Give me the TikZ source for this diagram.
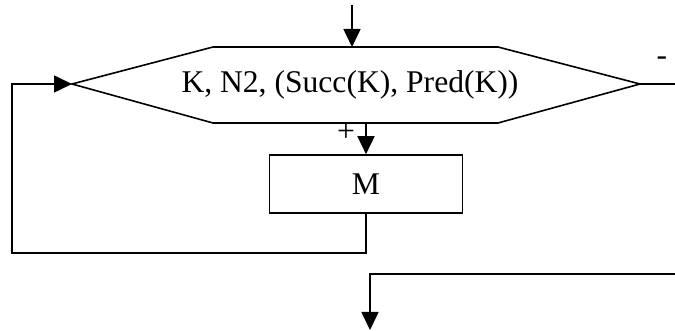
\documentclass[tikz,border=0pt]{standalone}
\usepackage{fontspec}
\setmainfont{Liberation Serif}
\usetikzlibrary{arrows.meta}
\usetikzlibrary{calc}

\tikzset{
  line/.style={line width=0.8pt},
  arr/.style={line, -{Triangle[length=9pt, width=8.5pt]}},
  lbl/.style={font=\fontsize{15.8}{19}\selectfont, inner sep=0pt},
  block/.style={line, draw, minimum width=96.5pt, minimum height=29pt, inner sep=0pt, font=\fontsize{15.8}{19}\selectfont}
}

\begin{document}
\begin{tikzpicture}[x=0.5pt, y=-0.5pt]
\useasboundingbox (0, 0) rectangle (675, 331);

\coordinate (hexW) at (72, 84);
\coordinate (hexNW) at (213, 47);
\coordinate (hexNE) at (498, 47);
\coordinate (hexE) at (640, 84);
\coordinate (hexSE) at (498, 123);
\coordinate (hexSW) at (213, 123);
\draw[line] (hexW) -- (hexNW) -- (hexNE) -- (hexE) -- (hexSE) -- (hexSW) -- cycle;
\node[lbl] (cond) at (350, 85) {K, N2, (Succ(K), Pred(K))};

\node[block] (m) at (366, 184) {M};

\coordinate (start) at (352, 5);
\draw[arr] (start) -- (start |- hexNW);

\draw[arr] (m.north |- hexSW) -- (m.north);
\node[lbl] (plus) at (346, 133) {+};

\coordinate (loop) at (12, 253);
\draw[arr] (m.south) -- (m.south |- loop) -- (loop) -- (loop |- hexW) -- (hexW);

\coordinate (outR) at (675, 84);
\draw[line] (hexE) -- (outR);
\node[lbl] (minus) at (662, 61) {-};

\coordinate (back) at (675, 274);
\coordinate (stop) at (370, 330);
\draw[arr] (back) -- (stop |- back) -- (stop);
\end{tikzpicture}
\end{document}
